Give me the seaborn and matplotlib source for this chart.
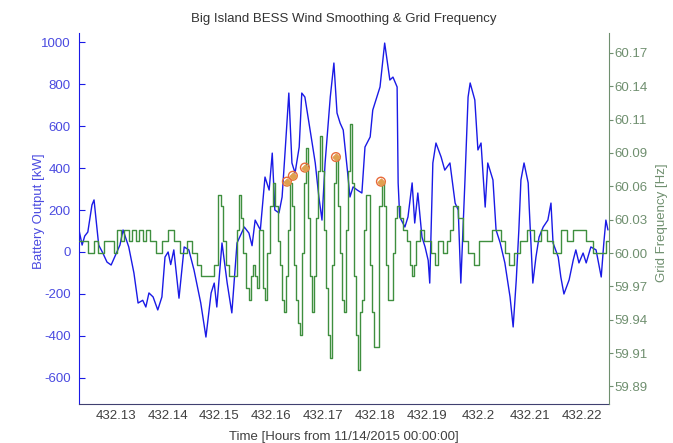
import matplotlib
matplotlib.use('Agg')
import numpy as np
import pandas as pd
import matplotlib.pyplot as plt
import seaborn as sns

# 电池出力 (kW)，时间单位：小时
batt_time = [432.1229, 432.1235, 432.1240, 432.1246, 432.1254, 432.1258, 432.1264, 432.1267,
             432.1275, 432.1283, 432.1291, 432.1308, 432.1314, 432.1325, 432.1335, 432.1343,
             432.1352, 432.1358, 432.1364, 432.1372, 432.1381, 432.1389, 432.1395, 432.1401,
             432.1406, 432.1412, 432.1422, 432.1432, 432.1441, 432.1451, 432.1464, 432.1474,
             432.1484, 432.1490, 432.1495, 432.1505, 432.1515, 432.1524, 432.1534, 432.1548,
             432.1557, 432.1563, 432.1569, 432.1579, 432.1588, 432.1596, 432.1602, 432.1607,
             432.1615, 432.1621, 432.1627, 432.1634, 432.1640, 432.1646, 432.1654, 432.1659,
             432.1665, 432.1673, 432.1679, 432.1685, 432.1692, 432.1698, 432.1704, 432.1714,
             432.1721, 432.1727, 432.1733, 432.1739, 432.1747, 432.1752, 432.1758, 432.1766,
             432.1775, 432.1781, 432.1791, 432.1796, 432.1804, 432.1810, 432.1819, 432.1829,
             432.1835, 432.1843, 432.1845, 432.1848, 432.1858, 432.1864, 432.1872, 432.1877,
             432.1883, 432.1891, 432.1897, 432.1903, 432.1906, 432.1912, 432.1918, 432.1928,
             432.1935, 432.1945, 432.1955, 432.1961, 432.1966, 432.1974, 432.1980, 432.1984,
             432.1993, 432.1999, 432.2005, 432.2013, 432.2018, 432.2028, 432.2034, 432.2042,
             432.2051, 432.2061, 432.2067, 432.2073, 432.2078, 432.2082, 432.2088, 432.2096,
             432.2098, 432.2105, 432.2111, 432.2117, 432.2125, 432.2134, 432.2140, 432.2144,
             432.2154, 432.2159, 432.2165, 432.2175, 432.2183, 432.2188, 432.2194, 432.2202,
             432.2208, 432.2217, 432.2227, 432.2237, 432.2242, 432.2246, 432.2250]
batt_kw = [105, 33, 76, 95, 224, 248, 105, 33,
           -5, -48, -62, 33, 105, 24, -100, -243,
           -230, -262, -195, -214, -276, -214, -24, 0,
           -60, 10, -220, 24, 10, -86, -243, -405,
           -195, -148, -262, 43, -148, -290, 43, 119,
           90, 30, 152, 105, 357, 295, 471, 200,
           186, 262, 486, 757, 424, 376, 500, 757,
           738, 614, 519, 424, 262, 152, 424, 738,
           900, 662, 614, 581, 390, 262, 310, 295,
           281, 500, 548, 676, 738, 786, 995, 819,
           833, 786, 329, 167, 119, 167, 329, 138,
           281, 71, 24, -40, -148, 424, 519, 452,
           390, 424, 233, 200, -148, 343, 738, 805,
           724, 486, 519, 214, 424, 343, 105, 43,
           -52, -214, -357, -133, 105, 343, 424, 329,
           214, -148, -24, 71, 119, 152, 233, 43,
           -24, -119, -200, -133, -38, 10, -52, -5,
           -52, 24, 10, -119, 43, 152, 105]

# 电网频率 (Hz)
freq_time = [432.12286, 432.12460, 432.12576, 432.12653, 432.12769, 432.12962, 432.13020, 432.13097,
             432.13155, 432.13252, 432.13309, 432.13387, 432.13445, 432.13522, 432.13580, 432.13657,
             432.13773, 432.13889, 432.14005, 432.14120, 432.14236, 432.14372, 432.14468, 432.14565,
             432.14642, 432.14893, 432.14970, 432.15028, 432.15067, 432.15125, 432.15182, 432.15337,
             432.15376, 432.15414, 432.15453, 432.15511, 432.15569, 432.15607, 432.15646, 432.15685,
             432.15723, 432.15762, 432.15839, 432.15878, 432.15916, 432.15974, 432.16032, 432.16071,
             432.16129, 432.16167, 432.16206, 432.16245, 432.16283, 432.16322, 432.16360, 432.16399,
             432.16438, 432.16476, 432.16515, 432.16554, 432.16592, 432.16631, 432.16669, 432.16708,
             432.16747, 432.16785, 432.16824, 432.16863, 432.16901, 432.16940, 432.16978, 432.17017,
             432.17056, 432.17094, 432.17133, 432.17171, 432.17210, 432.17249, 432.17287, 432.17326,
             432.17365, 432.17403, 432.17442, 432.17480, 432.17519, 432.17558, 432.17596, 432.17635,
             432.17674, 432.17712, 432.17751, 432.17789, 432.17828, 432.17905, 432.17944, 432.17982,
             432.18079, 432.18137, 432.18176, 432.18214, 432.18253, 432.18349, 432.18388, 432.18427,
             432.18485, 432.18542, 432.18620, 432.18678, 432.18716, 432.18755, 432.18794, 432.18871,
             432.18948, 432.19083, 432.19160, 432.19218, 432.19315, 432.19392, 432.19450, 432.19508,
             432.19605, 432.19701, 432.19798, 432.19913, 432.20010, 432.20261, 432.20435, 432.20512,
             432.20589, 432.20686, 432.20802, 432.20937, 432.21072, 432.21207, 432.21323, 432.21439,
             432.21593, 432.21709, 432.21825, 432.22076, 432.22211, 432.22462, 432.22520]
freq_hz = [60.01, 60.00, 60.01, 60.00, 60.01, 60.00, 60.02, 60.01,
           60.02, 60.01, 60.02, 60.01, 60.02, 60.01, 60.02, 60.01,
           60.00, 60.01, 60.02, 60.01, 60.00, 60.01, 60.00, 59.99,
           59.98, 59.99, 60.05, 60.04, 60.01, 59.99, 59.98, 60.02,
           60.05, 60.03, 60.00, 59.97, 59.96, 59.98, 59.99, 59.98,
           59.97, 60.02, 59.97, 59.96, 60.00, 60.04, 60.06, 60.04,
           60.01, 59.99, 59.96, 59.95, 59.98, 60.02, 60.06, 60.04,
           59.99, 59.96, 59.94, 59.93, 60.00, 60.06, 60.09, 60.03,
           59.98, 59.95, 59.98, 60.03, 60.07, 60.10, 60.07, 60.02,
           59.97, 59.93, 59.91, 59.99, 60.06, 60.08, 60.04, 60.00,
           59.96, 59.95, 60.02, 60.07, 60.11, 60.06, 59.98, 59.93,
           59.90, 59.95, 59.96, 60.02, 60.05, 59.99, 59.95, 59.92,
           60.04, 60.06, 60.04, 59.99, 59.96, 60.00, 60.03, 60.04,
           60.03, 60.02, 60.01, 59.99, 59.98, 59.99, 60.01, 60.02,
           60.01, 60.00, 59.99, 60.01, 60.00, 60.01, 60.02, 60.04,
           60.03, 60.01, 60.00, 59.99, 60.01, 60.02, 60.01, 60.00,
           59.99, 60.00, 60.01, 60.02, 60.01, 60.02, 60.01, 60.00,
           60.02, 60.01, 60.02, 60.01, 60.00, 60.01, 60.01]

# 标记点
mark_time = [432.16303, 432.16418, 432.16650, 432.17249, 432.18118]
mark_hz = [60.061, 60.066, 60.073, 60.082, 60.061]

x_ticks = [432.13, 432.14, 432.15, 432.16, 432.17, 432.18, 432.19, 432.20, 432.21, 432.22]
x_labels = ['432.13', '432.14', '432.15', '432.16', '432.17', '432.18', '432.19', '432.2', '432.21', '432.22']
kw_ticks = [-600, -400, -200, 0, 200, 400, 600, 800, 1000]
hz_ticks = [59.886, 59.9145, 59.943, 59.9715, 60.0, 60.0285, 60.057, 60.0855, 60.114, 60.1425, 60.171]
hz_labels = ['59.89', '59.91', '59.94', '59.97', '60.00', '60.03', '60.06', '60.09', '60.11', '60.14', '60.17']

batt = pd.DataFrame({'time': batt_time, 'kw': batt_kw})
freq = pd.DataFrame({'time': freq_time, 'hz': freq_hz})
marks = pd.DataFrame({'time': mark_time, 'hz': mark_hz})

sns.set_style('white')
plt.rcParams['font.family'] = ['Liberation Sans', 'DejaVu Sans']
plt.rcParams['axes.unicode_minus'] = False

blue = '#1a1ae6'
blue_txt = '#4a4ae0'
green = '#3f8f3f'
green_txt = '#6f8f6f'

fig = plt.figure(figsize=(6.73, 4.43), dpi=100)
ax = fig.add_axes([0.1174, 0.088, 0.7875, 0.8375])
ax2 = ax.twinx()

sns.lineplot(data=batt, x='time', y='kw', ax=ax, color=blue, lw=1.0, estimator=None)
sns.lineplot(data=freq, x='time', y='hz', ax=ax2, color=green, lw=1.0, estimator=None,
             drawstyle='steps-post')
ax2.scatter(marks['time'], marks['hz'], s=40, facecolors='none', edgecolors='#e86a3a', lw=1.0, zorder=5)
ax2.scatter(marks['time'], marks['hz'], s=12, marker='D', color='#e0a050', zorder=5)

ax.set_xlim(432.1229, 432.2252)
ax.set_ylim(-724, 1043)
ax2.set_ylim(59.871, 60.188)

ax.set_xticks(x_ticks)
ax.set_xticklabels(x_labels)
ax.set_yticks(kw_ticks)
ax2.set_yticks(hz_ticks)
ax2.set_yticklabels(hz_labels)

for s in ['top', 'right']:
    ax.spines[s].set_visible(False)
for s in ['top', 'left', 'bottom']:
    ax2.spines[s].set_visible(False)
ax.spines['left'].set_color(blue)
ax.spines['bottom'].set_color('#404070')
ax2.spines['right'].set_color(green_txt)

ax.tick_params(axis='y', direction='in', length=4, colors=blue, labelcolor=blue_txt, labelsize=9.5, pad=6)
ax.tick_params(axis='x', direction='in', length=4, color='#404070', labelcolor='#404040', labelsize=9.5, pad=4)
ax2.tick_params(axis='y', direction='out', length=3, colors=green_txt, labelcolor=green_txt, labelsize=9.5, pad=1)

ax.set_xlabel('Time [Hours from 11/14/2015 00:00:00]', fontsize=9.5, color='#404040', labelpad=7)
ax.set_ylabel('Battery Output [kW]', fontsize=9.5, color=blue_txt)
ax.yaxis.set_label_coords(-0.064, 0.52)
ax2.set_ylabel('Grid Frequency [Hz]', fontsize=9.5, color=green_txt)
ax2.yaxis.set_label_coords(1.088, 0.49)
ax.set_title('Big Island BESS Wind Smoothing & Grid Frequency', fontsize=9.5, color='#333333', pad=8)

plt.savefig('out.png', dpi=100)
